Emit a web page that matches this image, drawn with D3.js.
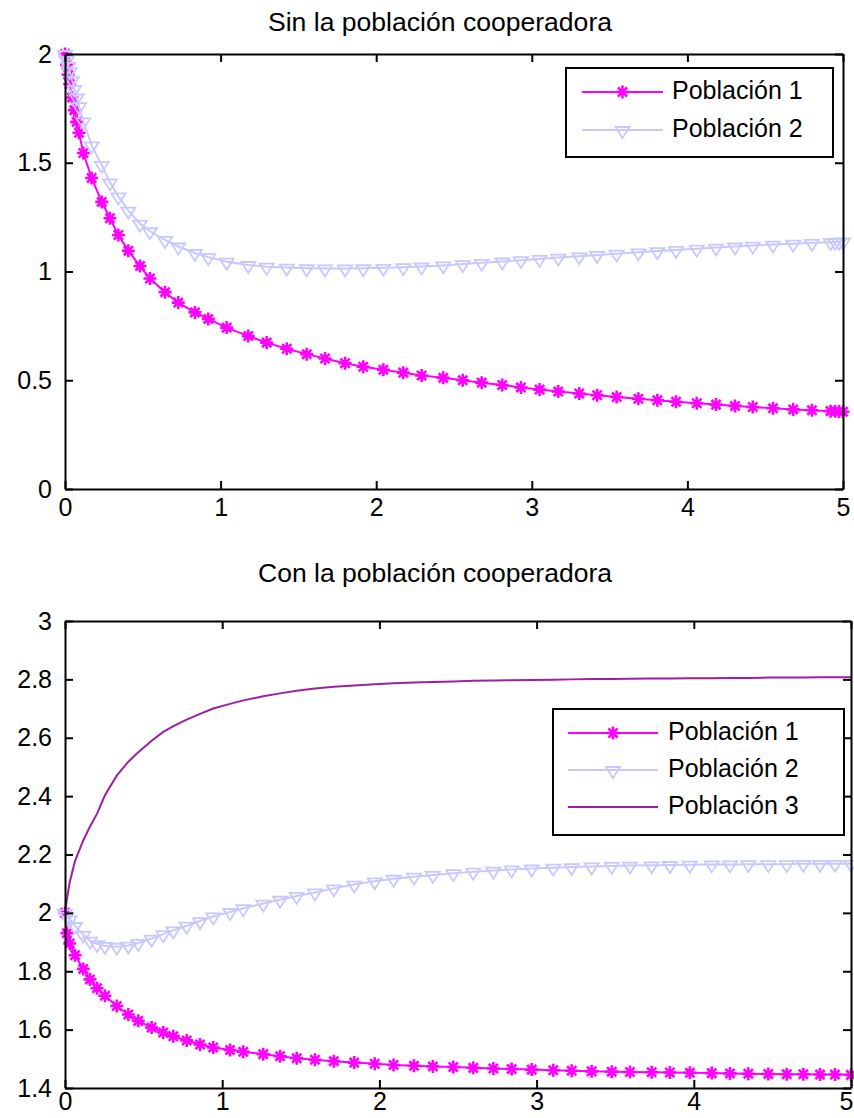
<!DOCTYPE html>
<html>
<head>
<meta charset="utf-8">
<script src="https://cdn.jsdelivr.net/npm/d3@7"></script>
<style>
  html, body { margin: 0; padding: 0; background: #fff; }
  svg { display: block; font-family: "Liberation Sans", Arial, sans-serif; }
</style>
</head>
<body>
<svg id="chart" width="854" height="1118"></svg>
<script>
// ---------- data ----------
const titleTop = "Sin la población cooperadora";
const titleBottom = "Con la población cooperadora";
const seriesNames = ["Población 1", "Población 2", "Población 3"];

// top panel (without cooperating population)
const tTop = [0, 0.01, 0.02, 0.03, 0.045, 0.06, 0.075, 0.09, 0.118, 0.171, 0.236, 0.289, 0.343, 0.407,
  0.482, 0.546, 0.643, 0.728, 0.835, 0.921, 1.039, 1.178, 1.296, 1.425, 1.553, 1.671, 1.80, 1.917,
  2.046, 2.174, 2.292, 2.431, 2.556, 2.678, 2.81, 2.93, 3.05, 3.17, 3.305, 3.42, 3.545, 3.685, 3.807,
  3.927, 4.06, 4.184, 4.306, 4.42, 4.55, 4.68, 4.80, 4.92, 4.95, 4.975, 5.0];
const top1 = [2.0, 1.95, 1.905, 1.862, 1.80, 1.742, 1.688, 1.638, 1.545, 1.43, 1.32, 1.245, 1.168, 1.095,
  1.025, 0.968, 0.905, 0.857, 0.812, 0.782, 0.742, 0.703, 0.673, 0.645, 0.620, 0.600, 0.578, 0.562,
  0.548, 0.535, 0.522, 0.511, 0.500, 0.489, 0.478, 0.467, 0.457, 0.448, 0.439, 0.431, 0.423, 0.415, 0.408,
  0.401, 0.394, 0.388, 0.382, 0.377, 0.371, 0.366, 0.362, 0.358, 0.357, 0.356, 0.355];
const top2 = [2.0, 1.973, 1.947, 1.92, 1.88, 1.84, 1.80, 1.76, 1.69, 1.58, 1.49, 1.41, 1.345, 1.28,
  1.22, 1.185, 1.145, 1.115, 1.085, 1.066, 1.045, 1.030, 1.022, 1.018, 1.015, 1.014, 1.014, 1.015,
  1.017, 1.020, 1.023, 1.028, 1.034, 1.040, 1.046, 1.052, 1.058, 1.064, 1.070, 1.076, 1.082, 1.088, 1.094,
  1.099, 1.105, 1.110, 1.115, 1.119, 1.124, 1.128, 1.132, 1.135, 1.136, 1.137, 1.138];

// bottom panel (with cooperating population)
const tBot = [0, 0.012, 0.03, 0.064, 0.116, 0.159, 0.204, 0.254, 0.329, 0.403, 0.466, 0.551, 0.625,
  0.689, 0.774, 0.859, 0.943, 1.05, 1.134, 1.261, 1.368, 1.474, 1.59, 1.71, 1.84, 1.97, 2.09, 2.22,
  2.34, 2.47, 2.597, 2.725, 2.841, 2.969, 3.106, 3.223, 3.35, 3.478, 3.594, 3.732, 3.848, 3.975, 4.114,
  4.23, 4.347, 4.474, 4.591, 4.697, 4.803, 4.898, 5.0];
const bot1 = [2.0, 1.93, 1.895, 1.855, 1.808, 1.772, 1.742, 1.716, 1.681, 1.652, 1.630, 1.607, 1.590,
  1.577, 1.563, 1.549, 1.539, 1.530, 1.524, 1.516, 1.509, 1.502, 1.497, 1.492, 1.487, 1.483, 1.479, 1.476,
  1.474, 1.472, 1.469, 1.467, 1.465, 1.463, 1.461, 1.459, 1.457, 1.456, 1.455, 1.454, 1.453, 1.452, 1.451,
  1.450, 1.449, 1.448, 1.447, 1.447, 1.446, 1.446, 1.445];
const bot2 = [2.0, 1.99, 1.978, 1.955, 1.925, 1.905, 1.893, 1.887, 1.884, 1.888, 1.897, 1.912, 1.927,
  1.940, 1.956, 1.972, 1.988, 2.003, 2.016, 2.032, 2.045, 2.058, 2.070, 2.084, 2.097, 2.108, 2.117, 2.124,
  2.130, 2.136, 2.141, 2.145, 2.149, 2.152, 2.155, 2.157, 2.159, 2.161, 2.162, 2.163, 2.164, 2.165, 2.166,
  2.166, 2.167, 2.167, 2.167, 2.168, 2.168, 2.168, 2.168];
const bot3 = [2.0, 2.047, 2.105, 2.178, 2.248, 2.296, 2.34, 2.403, 2.47, 2.518, 2.55, 2.59, 2.62,
  2.64, 2.662, 2.682, 2.700, 2.716, 2.728, 2.742, 2.752, 2.761, 2.769, 2.775, 2.779, 2.783, 2.787, 2.789,
  2.791, 2.793, 2.795, 2.796, 2.797, 2.798, 2.799, 2.800, 2.801, 2.801, 2.802, 2.803, 2.803, 2.804, 2.804,
  2.805, 2.805, 2.806, 2.806, 2.806, 2.807, 2.807, 2.807];

const xTicks = [0, 1, 2, 3, 4, 5];
const xTickLabels = ["0", "1", "2", "3", "4", "5"];
const yTicksTop = [0, 0.5, 1, 1.5, 2];
const yTickLabelsTop = ["0", "0.5", "1", "1.5", "2"];
const yTicksBot = [1.4, 1.6, 1.8, 2, 2.2, 2.4, 2.6, 2.8, 3];
const yTickLabelsBot = ["1.4", "1.6", "1.8", "2", "2.2", "2.4", "2.6", "2.8", "3"];

// ---------- styles ----------
const COL1 = "#ff00ff", COL2 = "#c8c8ff", COL3 = "#a01ea0";
const FONT = 25;
const W = 854;

const svg = d3.select("#chart");

const starPath = "M-6.5,0L6.5,0M0,-6.5L0,6.5M-4.6,-4.6L4.6,4.6M-4.6,4.6L4.6,-4.6";
const triPath = "M-7,-3L7,-3L0,8Z";

function drawPanel(cfg) {
  const x = d3.scaleLinear().domain([0, 5]).range([cfg.left, cfg.right]);
  const y = d3.scaleLinear().domain(cfg.yDomain).range([cfg.bottom, cfg.top]);
  const g = svg.append("g");

  // title
  g.append("text")
    .attr("x", cfg.titleX).attr("y", cfg.titleY)
    .attr("textLength", cfg.titleLen).attr("lengthAdjust", "spacingAndGlyphs")
    .attr("font-size", FONT).attr("fill", "#000")
    .text(cfg.title);

  // series
  cfg.series.forEach(s => {
    const pts = cfg.t.map((tv, i) => [tv, s.values[i]]);
    const line = d3.line().x(d => x(d[0])).y(d => y(d[1]));
    g.append("path").datum(pts)
      .attr("d", line).attr("fill", "none")
      .attr("stroke", s.color).attr("stroke-width", 2);
    if (s.marker) {
      g.append("g").selectAll("path").data(pts).join("path")
        .attr("transform", d => `translate(${x(d[0])},${y(d[1])})`)
        .attr("d", s.marker)
        .attr("fill", "none")
        .attr("stroke", s.color)
        .attr("stroke-width", s.marker === starPath ? 2.6 : 1.8);
    }
  });

  // axes (box with inward ticks)
  const axStyle = sel => {
    sel.selectAll("path.domain").attr("stroke", "#000").attr("stroke-width", 2);
    sel.selectAll(".tick line").attr("stroke", "#000").attr("stroke-width", 2);
    sel.selectAll("text").attr("font-size", FONT).attr("fill", "#000")
      .attr("font-family", "'Liberation Sans', Arial, sans-serif");
  };
  const xAxisG = g.append("g").attr("transform", `translate(0,${cfg.bottom})`)
    .call(d3.axisBottom(x).tickValues(xTicks).tickFormat((d, i) => xTickLabels[i])
      .tickSizeInner(-8).tickSizeOuter(0).tickPadding(cfg.xPad))
    .call(axStyle);
  // keep the last label inside the page when the axis reaches the edge
  xAxisG.selectAll(".tick text").each(function (d) {
    const bb = this.getBBox();
    const px = x(d);
    if (px + bb.width / 2 > W - 1) {
      d3.select(this).attr("text-anchor", "end").attr("x", (W - 1) - px);
    }
  });
  g.append("g").attr("transform", `translate(0,${cfg.top})`)
    .call(d3.axisTop(x).tickValues(xTicks).tickFormat("").tickSizeInner(-8).tickSizeOuter(0))
    .call(axStyle);
  g.append("g").attr("transform", `translate(${cfg.left},0)`)
    .call(d3.axisLeft(y).tickValues(cfg.yTicks).tickFormat((d, i) => cfg.yLabels[i])
      .tickSizeInner(-8).tickSizeOuter(0).tickPadding(13))
    .call(axStyle);
  g.append("g").attr("transform", `translate(${cfg.right},0)`)
    .call(d3.axisRight(y).tickValues(cfg.yTicks).tickFormat("").tickSizeInner(-8).tickSizeOuter(0))
    .call(axStyle);

  // legend
  const L = cfg.legend;
  const lg = g.append("g");
  lg.append("rect")
    .attr("x", L.x0).attr("y", L.y0).attr("width", L.x1 - L.x0).attr("height", L.y1 - L.y0)
    .attr("fill", "#fff").attr("stroke", "#000").attr("stroke-width", 2);
  cfg.series.forEach((s, i) => {
    const ly = L.rowY + i * L.pitch;
    lg.append("line")
      .attr("x1", L.lineX0).attr("x2", L.lineX1).attr("y1", ly).attr("y2", ly)
      .attr("stroke", s.color).attr("stroke-width", 2);
    if (s.marker) {
      lg.append("path")
        .attr("transform", `translate(${(L.lineX0 + L.lineX1) / 2},${ly})`)
        .attr("d", s.marker).attr("fill", "none").attr("stroke", s.color)
        .attr("stroke-width", s.marker === starPath ? 2.6 : 1.8);
    }
    lg.append("text")
      .attr("x", L.textX).attr("y", ly + 7)
      .attr("font-size", FONT).attr("fill", "#000")
      .text(s.name);
  });
}

drawPanel({
  left: 65, right: 843, top: 54, bottom: 489, xPad: 9,
  yDomain: [0, 2], yTicks: yTicksTop, yLabels: yTickLabelsTop,
  title: titleTop, titleX: 268, titleY: 31, titleLen: 344,
  t: tTop,
  series: [
    { name: seriesNames[0], values: top1, color: COL1, marker: starPath },
    { name: seriesNames[1], values: top2, color: COL2, marker: triPath }
  ],
  legend: { x0: 566, x1: 833, y0: 68, y1: 157, rowY: 92, pitch: 38, lineX0: 582, lineX1: 663, textX: 672 }
});

drawPanel({
  left: 65, right: 851, top: 621, bottom: 1088, xPad: 4,
  yDomain: [1.4, 3], yTicks: yTicksBot, yLabels: yTickLabelsBot,
  title: titleBottom, titleX: 258, titleY: 582, titleLen: 354,
  t: tBot,
  series: [
    { name: seriesNames[0], values: bot1, color: COL1, marker: starPath },
    { name: seriesNames[1], values: bot2, color: COL2, marker: triPath },
    { name: seriesNames[2], values: bot3, color: COL3, marker: null }
  ],
  legend: { x0: 553, x1: 844, y0: 709, y1: 835, rowY: 733, pitch: 37, lineX0: 568, lineX1: 658, textX: 668 }
});
</script>
</body>
</html>
